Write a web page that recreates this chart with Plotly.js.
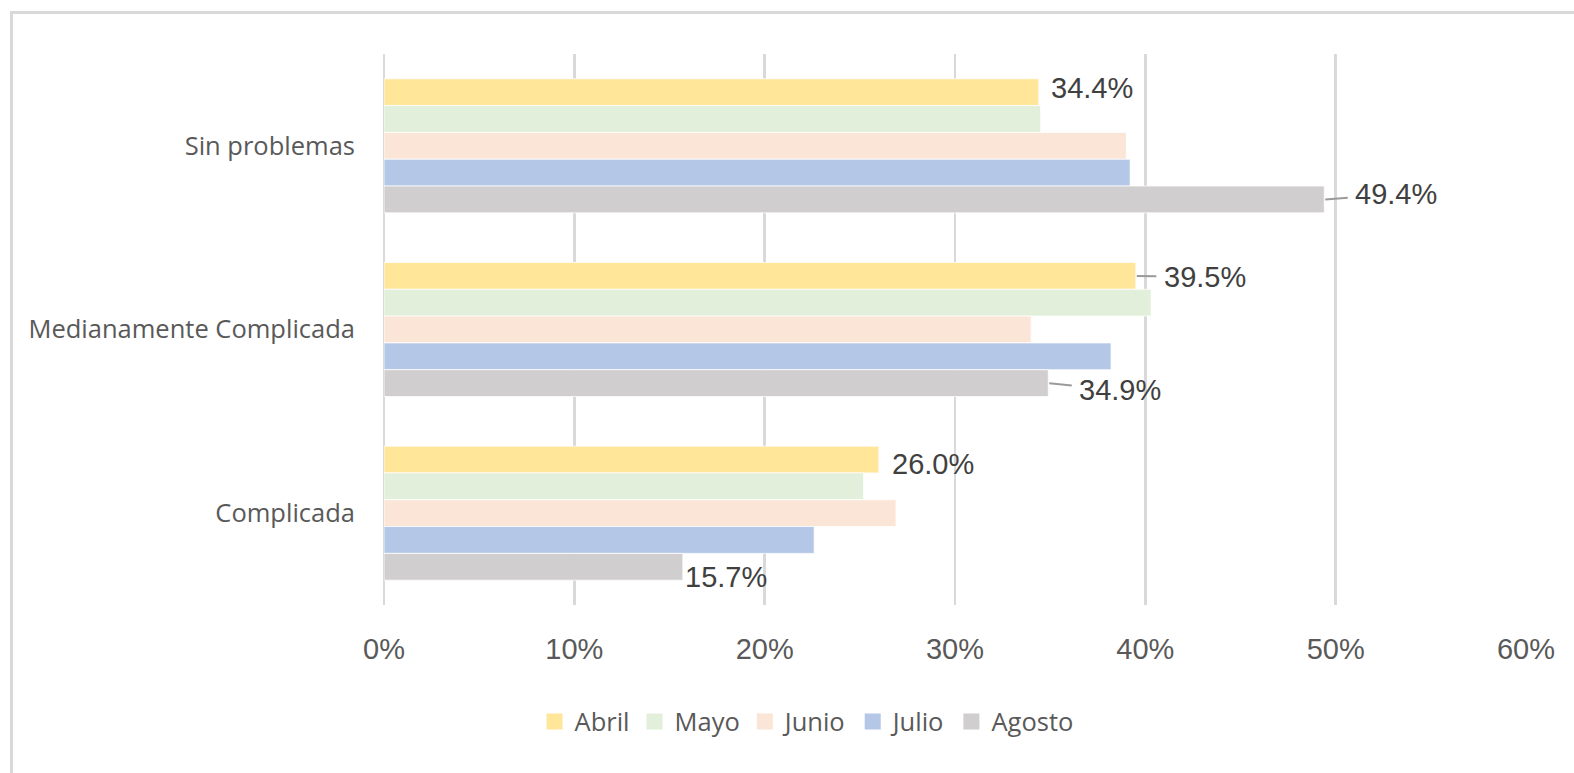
<!DOCTYPE html>
<html>
<head>
<meta charset="utf-8">
<script src="https://cdn.plot.ly/plotly-3.0.1.min.js"></script>
<style>
  html, body { margin: 0; padding: 0; width: 1574px; height: 773px; overflow: hidden; background: #ffffff; }
  #frame { position: absolute; left: 10px; top: 11px; width: 1700px; height: 900px; border: 3px solid #d9d9d9; box-sizing: border-box; }
  #chart { position: absolute; left: 0; top: 0; width: 1574px; height: 773px; }
</style>
</head>
<body>
<div id="frame"></div>
<div id="chart"></div>
<script>
// ---- data ----
const categories = ['Sin problemas', 'Medianamente Complicada', 'Complicada'];
const seriesNames = ['Abril', 'Mayo', 'Junio', 'Julio', 'Agosto'];
const abril  = [34.4, 39.5, 26.0];
const mayo   = [34.5, 40.3, 25.2];
const junio  = [39.0, 34.0, 26.9];
const julio  = [39.2, 38.2, 22.6];
const agosto = [49.4, 34.9, 15.7];
const xTickVals = [0, 10, 20, 30, 40, 50, 60];
const xTickText = ['0%', '10%', '20%', '30%', '40%', '50%', '60%'];

// ---- style ----
const seriesValues = [abril, mayo, junio, julio, agosto];
const colors = ['#FFE699', '#E2EFDA', '#FBE5D6', '#B4C7E7', '#D0CECE'];
const bargap = 0.27;

// labels shown: series index, category index, text offset (px) and leader line flag
const labelSpecs = [
  {s: 0, c: 0, ax: 53, ay: -4, leader: false},
  {s: 4, c: 0, ax: 72, ay: -5, leader: true},
  {s: 0, c: 1, ax: 69, ay: 1, leader: true},
  {s: 4, c: 1, ax: 72, ay: 7, leader: true},
  {s: 0, c: 2, ax: 54, ay: 4, leader: false},
  {s: 4, c: 2, ax: 43, ay: 10, leader: false}
];

const barTraces = seriesNames.map((name, j) => ({
  type: 'bar',
  orientation: 'h',
  name: name,
  legendgroup: name,
  showlegend: false,
  y: categories,
  x: seriesValues[j],
  marker: { color: colors[j], line: { color: '#ffffff', width: 0.75 } },
  hoverinfo: 'x+y+name'
}));

// legend entries with larger square swatches
const legendTraces = seriesNames.map((name, j) => ({
  type: 'scatter',
  mode: 'markers',
  name: name,
  legendgroup: name,
  showlegend: true,
  x: [null],
  y: [null],
  marker: { symbol: 'square', size: 16, color: colors[j] },
  hoverinfo: 'skip'
}));

const groupWidth = 1 - bargap;
const barW = groupWidth / seriesNames.length;
const annotations = labelSpecs.map(l => {
  const v = seriesValues[l.s][l.c];
  return {
    xref: 'x', yref: 'y',
    x: v,
    y: l.c - groupWidth / 2 + barW * (l.s + 0.5),
    text: v.toFixed(1) + '%',
    showarrow: true,
    arrowhead: 0,
    arrowwidth: 2,
    arrowcolor: l.leader ? '#9a9a9a' : 'rgba(0,0,0,0)',
    standoff: 1,
    borderpad: 7,
    ax: l.ax, ay: l.ay,
    font: { family: 'Liberation Sans, Arial, sans-serif', size: 29, color: '#404040' }
  };
});

const layout = {
  width: 1574, height: 773,
  paper_bgcolor: 'rgba(0,0,0,0)',
  plot_bgcolor: 'rgba(0,0,0,0)',
  margin: { l: 384, r: 48, t: 54, b: 168, pad: 0 },
  barmode: 'group',
  bargap: bargap,
  bargroupgap: 0,
  showlegend: true,
  legend: {
    orientation: 'h',
    x: 0.37, xanchor: 'center',
    y: -0.212, yanchor: 'middle',
    font: { family: 'Open Sans, sans-serif', size: 25.5, color: '#595959' },
    traceorder: 'normal',
    itemwidth: 30
  },
  xaxis: {
    range: [0, 60],
    tickvals: xTickVals,
    ticktext: xTickText,
    showgrid: true,
    gridcolor: '#d9d9d9',
    gridwidth: 2.5,
    zeroline: true,
    zerolinecolor: '#d9d9d9',
    zerolinewidth: 2.5,
    showline: false,
    ticks: '',
    ticklabelstandoff: 24,
    tickfont: { family: 'Liberation Sans, Arial, sans-serif', size: 29, color: '#595959' },
    fixedrange: true
  },
  yaxis: {
    type: 'category',
    categoryarray: categories,
    categoryorder: 'array',
    autorange: 'reversed',
    showgrid: false,
    zeroline: false,
    showline: false,
    ticks: '',
    ticklabelstandoff: 28,
    tickfont: { family: 'Open Sans, sans-serif', size: 25.5, color: '#595959' },
    fixedrange: true
  },
  annotations: annotations
};

Plotly.newPlot('chart', barTraces.concat(legendTraces), layout, { displayModeBar: false, staticPlot: true });
</script>
</body>
</html>
